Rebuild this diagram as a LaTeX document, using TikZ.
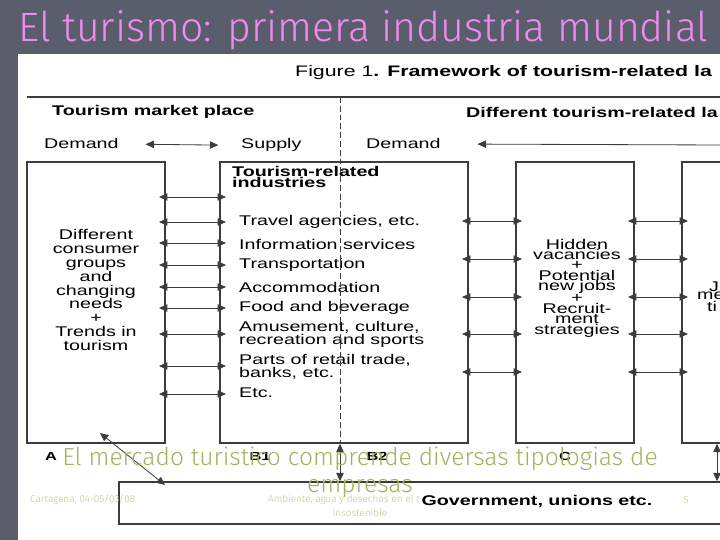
\documentclass[tikz,border=0pt]{standalone}
\usepackage{fontspec}
\setmainfont{Liberation Sans}[FakeStretch=1.4]
\newfontfamily\comicfont{Fira Sans Light}
\usetikzlibrary{arrows.meta,positioning,fit}
\definecolor{slide-bg}{RGB}{90,93,107}
\definecolor{title-pink}{RGB}{240,140,240}
\definecolor{note-olive}{RGB}{160,180,95}
\definecolor{foot-olive}{RGB}{190,200,130}
\definecolor{line-gray}{RGB}{60,60,60}

\tikzset{
  box/.style={draw=line-gray, line width=1.2pt, inner sep=0pt},
  item/.style={anchor=west, inner sep=0pt, font=\fontsize{12}{8.6}\selectfont, align=left},
  biarrow/.style={line-gray, line width=0.7pt, {Triangle[length=2.5mm,width=2.2mm]}-{Triangle[length=2.5mm,width=2.2mm]}, shorten <=-2mm, shorten >=-2mm},
  vbiarrow/.style={line-gray, line width=0.7pt, {Triangle[length=2.5mm,width=2.2mm]}-{Triangle[length=2.5mm,width=2.2mm]}},
  flowarrow/.style={line-gray, line width=0.7pt, -{Triangle[length=2.5mm,width=2.2mm]}},
  footnote/.style={font=\comicfont\fontsize{8.5}{10}\selectfont, text=foot-olive, inner sep=0pt}
}

\begin{document}
\begin{tikzpicture}[x=0.03cm, y=-0.03cm]
    % Slide background
    \path[use as bounding box] (0,0) rectangle (720,540);
    \clip (0,0) rectangle (720,540);
    \fill[slide-bg] (0,0) rectangle (720,540);
    \fill[white] (18,54) rectangle (720,540);

    % Title
    \node[anchor=base west, inner sep=0pt, text=title-pink, font=\comicfont\fontsize{35}{35}\selectfont] (title) at (18,42) {El turismo: primera industria mundial};

    % Figure caption and rule
    \node[anchor=base west, inner sep=0pt, font=\fontsize{13}{13}\selectfont] (figcap) at (295,77) {Figure 1\textbf{. Framework of tourism-related la}};
    \coordinate (ruleL) at (27,97);
    \coordinate (ruleR) at (720,97);
    \draw[line-gray, line width=1pt] (ruleL) -- (ruleR);

    % Headings
    \node[anchor=base west, inner sep=0pt, font=\bfseries\fontsize{12}{12}\selectfont] (market) at (52,116) {Tourism market place};
    \node[anchor=base west, inner sep=0pt, font=\bfseries\fontsize{12}{12}\selectfont] (labour) at (466,118) {Different tourism-related la};
    \node[anchor=base west, inner sep=0pt, font=\fontsize{12}{12}\selectfont] (demandL) at (44,149) {Demand};
    \node[anchor=base west, inner sep=0pt, font=\fontsize{12}{12}\selectfont] (supply) at (241,149) {Supply};
    \node[anchor=base west, inner sep=0pt, font=\fontsize{12}{12}\selectfont] (demandR) at (366,149) {Demand};
    \coordinate (flowEnd) at (720,145);
    \draw[vbiarrow, shorten <=0.8cm, shorten >=0.68cm] (demandL.east) -- (supply.west);
    \draw[flowarrow, shorten >=1.1cm] (flowEnd) -- (demandR.east);

    % Boxes
    \node[box, fit={(27,162) (165,443)}] (boxA) {};
    \node[box, fit={(220,162) (468,443)}] (boxB) {};
    \node[box, fit={(516,162) (634,443)}] (boxC) {};
    \node[box, fit={(682,162) (800,443)}] (boxD) {};
    \node[box, fit={(119,482) (800,524)}] (gov) {};

    % Box A text
    \node[align=center, inner sep=0pt, font=\fontsize{12}{11.9}\selectfont] (needs) at (96,290) {Different\\consumer\\groups\\and\\changing\\needs\\+\\Trends in\\tourism};

    % Box B text
    \node[item, anchor=north west, font=\bfseries\fontsize{12}{9.4}\selectfont] (industries) at (232,166) {Tourism-related\\industries};
    \node[item] (travel) at (239,222) {Travel agencies, etc.};
    \node[item] (info) at (239,244) {Information services};
    \node[item] (transport) at (239,265) {Transportation};
    \node[item] (accom) at (239,287) {Accommodation};
    \node[item] (food) at (239,308) {Food and beverage};
    \node[item] (amuse) at (239,334) {Amusement, culture,\\recreation and sports};
    \node[item] (retail) at (239,367) {Parts of retail trade,\\banks, etc.};
    \node[item] (etc) at (239,393) {Etc.};

    % Box C text
    \node[align=center, inner sep=0pt, font=\fontsize{12}{8.9}\selectfont] (hidden) at (577,288) {Hidden\\vacancies\\+\\Potential\\new jobs\\+\\Recruit-\\ment\\strategies};

    % Box D text
    \node[item] (jD) at (709,287) {J};
    \node[item] (meD) at (697,296) {me};
    \node[item] (tiD) at (707,306) {ti};

    % Connections
    \foreach \y in {197,222,243,265,287,308,334,366,394}
        \draw[biarrow] (boxA.east |- 0,\y) -- (boxB.west |- 0,\y);
    \foreach \y in {221,259,297,334,372} {
        \draw[biarrow] (boxB.east |- 0,\y) -- (boxC.west |- 0,\y);
        \draw[biarrow] (boxC.east |- 0,\y) -- (boxD.west |- 0,\y);
    }
    \draw[line-gray, line width=0.8pt, dash pattern=on 5pt off 2.5pt] (340,0 |- ruleL) -- (340,0 |- boxB.south);
    \draw[vbiarrow] (340,0 |- boxB.south) -- (340,0 |- gov.north);
    \draw[vbiarrow] (717,0 |- boxD.south) -- (717,0 |- gov.north);
    \coordinate (aPoint) at (100,433);
    \coordinate (govPoint) at (165,485);
    \draw[vbiarrow] (aPoint) -- (govPoint);

    % Box labels
    \node[inner sep=0pt, font=\bfseries\fontsize{10}{10}\selectfont] (labA) at (51,456) {A};
    \node[inner sep=0pt, font=\bfseries\fontsize{10}{10}\selectfont] (labB1) at (260,456) {B1};
    \node[inner sep=0pt, font=\bfseries\fontsize{10}{10}\selectfont] (labB2) at (377,456) {B2};
    \node[inner sep=0pt, font=\bfseries\fontsize{10}{10}\selectfont] (labC) at (565,456) {C};

    % Footer
    \node[footnote, anchor=west] (place) at (30,500) {Cartagena, 04-05/03/08};
    \node[footnote, anchor=west] (topic) at (268,500) {Ambiente, agua y desechos en el turismo};
    \node[footnote] (topic2) at (360,513) {insostenible};
    \node[footnote] (page) at (686,500) {5};
    \node[fill=white, inner sep=1pt, font=\bfseries\fontsize{12}{12}\selectfont] (govtext) at (537,501) {Government, unions etc.};

    % Overlay note
    \node[align=center, inner sep=0pt, text=note-olive, font=\comicfont\fontsize{21}{23}\selectfont] (note) at (360,472) {El mercado turistico comprende diversas tipologias de\\empresas};
\end{tikzpicture}
\end{document}
